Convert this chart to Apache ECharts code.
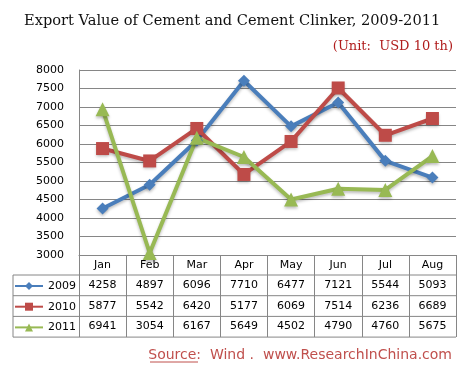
<!DOCTYPE html>
<html>
<head>
<meta charset="utf-8">
<script src="https://cdn.jsdelivr.net/npm/echarts@6/dist/echarts.min.js"></script>
<style>
  html, body { margin: 0; padding: 0; background: #fff; }
  #chart { width: 467px; height: 375px; }
</style>
</head>
<body>
<div id="chart"></div>
<script>
// data
const months = ['Jan', 'Feb', 'Mar', 'Apr', 'May', 'Jun', 'Jul', 'Aug']
const years = ['2009', '2010', '2011']
const v2009 = [4258, 4897, 6096, 7710, 6477, 7121, 5544, 5093]
const v2010 = [5877, 5542, 6420, 5177, 6069, 7514, 6236, 6689]
const v2011 = [6941, 3054, 6167, 5649, 4502, 4790, 4760, 5675]

const colors = ['#4a7ebb', '#be4b48', '#98b954']
const symbols = ['diamond', 'rect', 'triangle']
const symbolSizes = [12, 13, 14]
const gridColor = '#868686'
const rowH = 20.7

const chart = echarts.init(document.getElementById('chart'))

const valueAxis = (vals, k) => ({
  type: 'category',
  position: 'bottom',
  offset: rowH * k,
  data: vals.map(String),
  axisLine: { show: false },
  axisTick: { show: false },
  axisLabel: { color: '#000', fontSize: 11, fontFamily: 'DejaVu Sans', margin: 4 },
})

chart.setOption({
  animation: false,
  title: [{
    text: 'Export Value of Cement and Cement Clinker, 2009-2011',
    left: 24,
    top: 14,
    padding: 0,
    textStyle: { fontFamily: 'DejaVu Serif', fontWeight: 'normal', fontSize: 14.6, color: '#111' },
  }, {
    text: '(Unit:  USD 10 th)',
    right: 14,
    top: 40,
    padding: 0,
    textStyle: { fontFamily: 'DejaVu Serif', fontWeight: 'normal', fontSize: 13, color: '#b01c1c' },
  }, {
    text: 'Source:  Wind .  www.ResearchInChina.com',
    right: 15,
    top: 348,
    padding: 0,
    textStyle: { fontFamily: 'DejaVu Sans', fontWeight: 'normal', fontSize: 14, color: '#c0504d' },
  }],
  color: colors,
  legend: {
    orient: 'vertical',
    left: 14,
    top: 279,
    padding: 0,
    itemWidth: 28,
    itemHeight: 10,
    itemGap: rowH - 14,
    textStyle: { color: '#000', fontSize: 11, fontFamily: 'DejaVu Sans', lineHeight: 14 },
    data: years,
  },
  grid: { left: 79, right: 11, top: 70, bottom: 120 },
  xAxis: [{
    type: 'category',
    data: months,
    boundaryGap: true,
    axisLine: { lineStyle: { color: gridColor } },
    axisTick: { show: true, interval: 0, length: rowH * 4 - 0.8, lineStyle: { color: gridColor } },
    axisLabel: { color: '#000', fontSize: 11, fontFamily: 'DejaVu Sans', margin: 5 },
  },
  valueAxis(v2009, 1),
  valueAxis(v2010, 2),
  valueAxis(v2011, 3),
  ],
  yAxis: {
    type: 'value',
    min: 3000,
    max: 8000,
    interval: 500,
    axisLine: { show: true, lineStyle: { color: gridColor } },
    axisTick: { show: false },
    splitLine: { lineStyle: { color: gridColor } },
    axisLabel: { color: '#000', fontSize: 11, fontFamily: 'DejaVu Sans', margin: 15, formatter: (v) => String(v) },
  },
  graphic: [
    // table rules
    ...[0, 1, 2, 3].map((k) => ({
      type: 'line',
      shape: { x1: 13, y1: 275 + rowH * k, x2: 456, y2: 275 + rowH * k },
      style: { stroke: gridColor, lineWidth: 1 },
      silent: true,
    })),
    {
      type: 'line',
      shape: { x1: 13, y1: 275, x2: 13, y2: 275 + rowH * 3 },
      style: { stroke: gridColor, lineWidth: 1 },
      silent: true,
    },
    {
      type: 'line',
      shape: { x1: 150, y1: 362, x2: 198, y2: 362 },
      style: { stroke: '#c0504d', lineWidth: 1 },
      silent: true,
    },
  ],
  series: [v2009, v2010, v2011].map((vals, i) => ({
    name: years[i],
    type: 'line',
    data: vals,
    symbol: symbols[i],
    symbolSize: symbolSizes[i],
    lineStyle: { width: 4, shadowColor: 'rgba(0,0,0,0.25)', shadowBlur: 3, shadowOffsetY: 2 },
    itemStyle: { color: colors[i], shadowColor: 'rgba(0,0,0,0.25)', shadowBlur: 3, shadowOffsetY: 2 },
  })),
})
</script>
</body>
</html>
